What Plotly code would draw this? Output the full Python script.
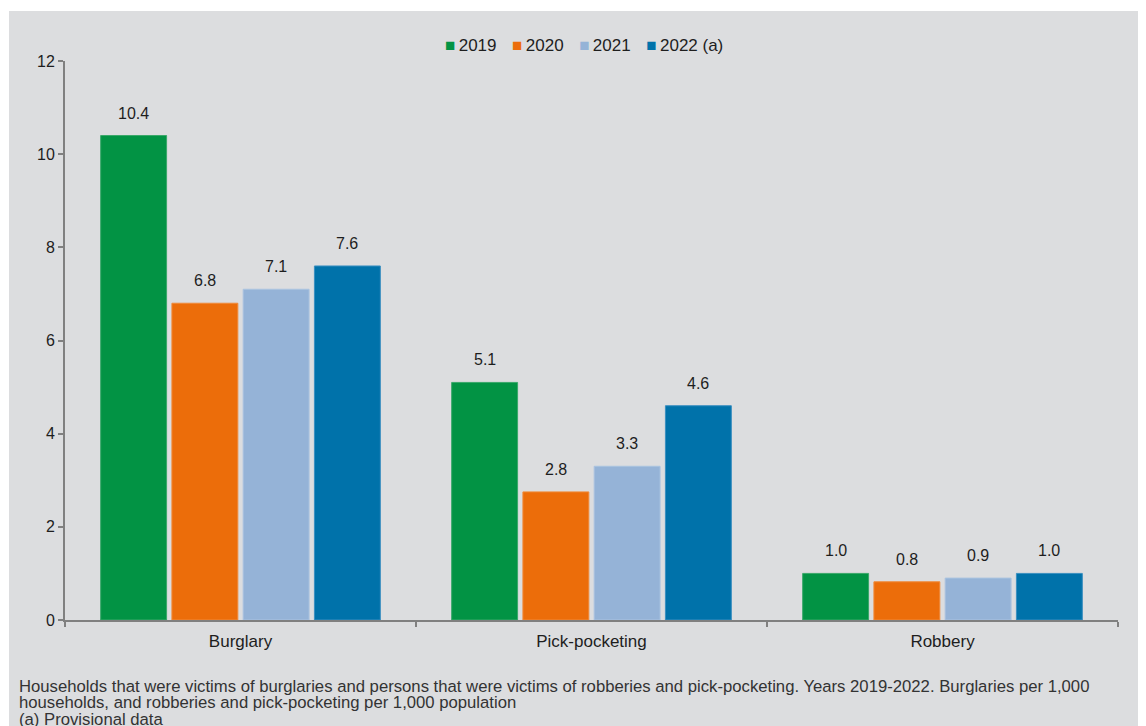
import plotly.graph_objects as go

categories = ["Burglary", "Pick-pocketing", "Robbery"]
series_names = ["2019", "2020", "2021", "2022 (a)"]
v2019 = [10.4, 5.1, 1.0]
v2020 = [6.8, 2.75, 0.82]
v2021 = [7.1, 3.3, 0.9]
v2022 = [7.6, 4.6, 1.0]
labels2019 = ["10.4", "5.1", "1.0"]
labels2020 = ["6.8", "2.8", "0.8"]
labels2021 = ["7.1", "3.3", "0.9"]
labels2022 = ["7.6", "4.6", "1.0"]
y_ticks = [0, 2, 4, 6, 8, 10, 12]

values = [v2019, v2020, v2021, v2022]
labels = [labels2019, labels2020, labels2021, labels2022]
colors = ["#029344", "#EC6D0A", "#95B3D7", "#0072AA"]
edge = ["#3aa86a", "#f08a3a", "#aac3e0", "#3a8fc0"]

W, H = 1138, 718
ML, MR, MT, MB = 57, 28, 53, 106
BARGAP = 0.188
GROUPGAP = 0.075
BG = "#DCDDDF"
FONT = "Liberation Sans, Arial, sans-serif"
TXT = "#1e1e1e"

pw = W - ML - MR
ph = H - MT - MB
base = H - MB  # pixel y of the x axis in figure coords

fig = go.Figure()
for name, vals, col, ec in zip(series_names, values, colors, edge):
    fig.add_trace(go.Bar(
        x=categories, y=vals, name=name,
        marker=dict(color=col, line=dict(color=ec, width=1)),
    ))

# value labels above bars
n = len(series_names)
for i, labs in enumerate(labels):
    for ci, lab in enumerate(labs):
        xpos = ci + (i - (n - 1) / 2) * (1 - BARGAP) / n
        fig.add_annotation(
            x=xpos, y=values[i][ci], xref="x", yref="y",
            text=lab, showarrow=False, yanchor="bottom", yshift=12,
            font=dict(family=FONT, size=16, color=TXT),
        )

# gray panel
fig.add_shape(
    type="rect", xref="paper", yref="paper", layer="below",
    x0=(1 - ML) / pw, x1=(W + 10 - ML) / pw,
    y0=-(H + 10 - base) / ph, y1=(base - 3) / ph,
    fillcolor=BG, line=dict(width=0),
)

# legend (text-based, compact like the original)
sp = "\u00a0" * 3 + "\u200a"
legend_txt = sp.join(
    f'<span style="color:{c}">\u25A0</span>\u2009{nm}' for nm, c in zip(series_names, colors)
)
fig.add_annotation(
    xref="paper", yref="paper", x=(576 - ML) / pw, y=(base - 37) / ph,
    xanchor="center", yanchor="middle", showarrow=False, text=legend_txt,
    font=dict(family=FONT, size=17, color=TXT),
)

foot = [
    "Households that were victims of burglaries and persons that were victims of robberies and pick-pocketing. Years 2019-2022. Burglaries per 1,000",
    "households, and robberies and pick-pocketing per 1,000 population",
    "(a) Provisional data",
]
foot_y = [678, 694.5, 711]
for txt, yp in zip(foot, foot_y):
    fig.add_annotation(
        xref="paper", yref="paper", x=(9 - ML) / pw, y=(base - yp) / ph,
        xanchor="left", yanchor="middle", showarrow=False, text=txt,
        font=dict(family=FONT, size=16.7, color="#333333"),
    )

fig.update_layout(
    width=W, height=H,
    margin=dict(l=ML, r=MR, t=MT, b=MB, pad=0),
    paper_bgcolor="white", plot_bgcolor="rgba(0,0,0,0)",
    barmode="group", bargap=BARGAP, bargroupgap=GROUPGAP,
    font=dict(family=FONT, size=16, color=TXT),
    showlegend=False,
)
fig.update_xaxes(
    showline=True, linecolor="#808080", linewidth=2,
    ticks="outside", tickson="boundaries", ticklen=5, tickcolor="#808080", tickwidth=2,
    showgrid=False, tickfont=dict(family=FONT, size=17, color=TXT), ticklabelstandoff=5,
)
fig.update_yaxes(
    range=[0, 12], tickvals=y_ticks, showline=True, linecolor="#808080", linewidth=2,
    ticks="outside", ticklen=5, tickcolor="#808080", tickwidth=2,
    showgrid=False, zeroline=False, tickfont=dict(family=FONT, size=16, color=TXT),
)

fig.write_html("out.html")
